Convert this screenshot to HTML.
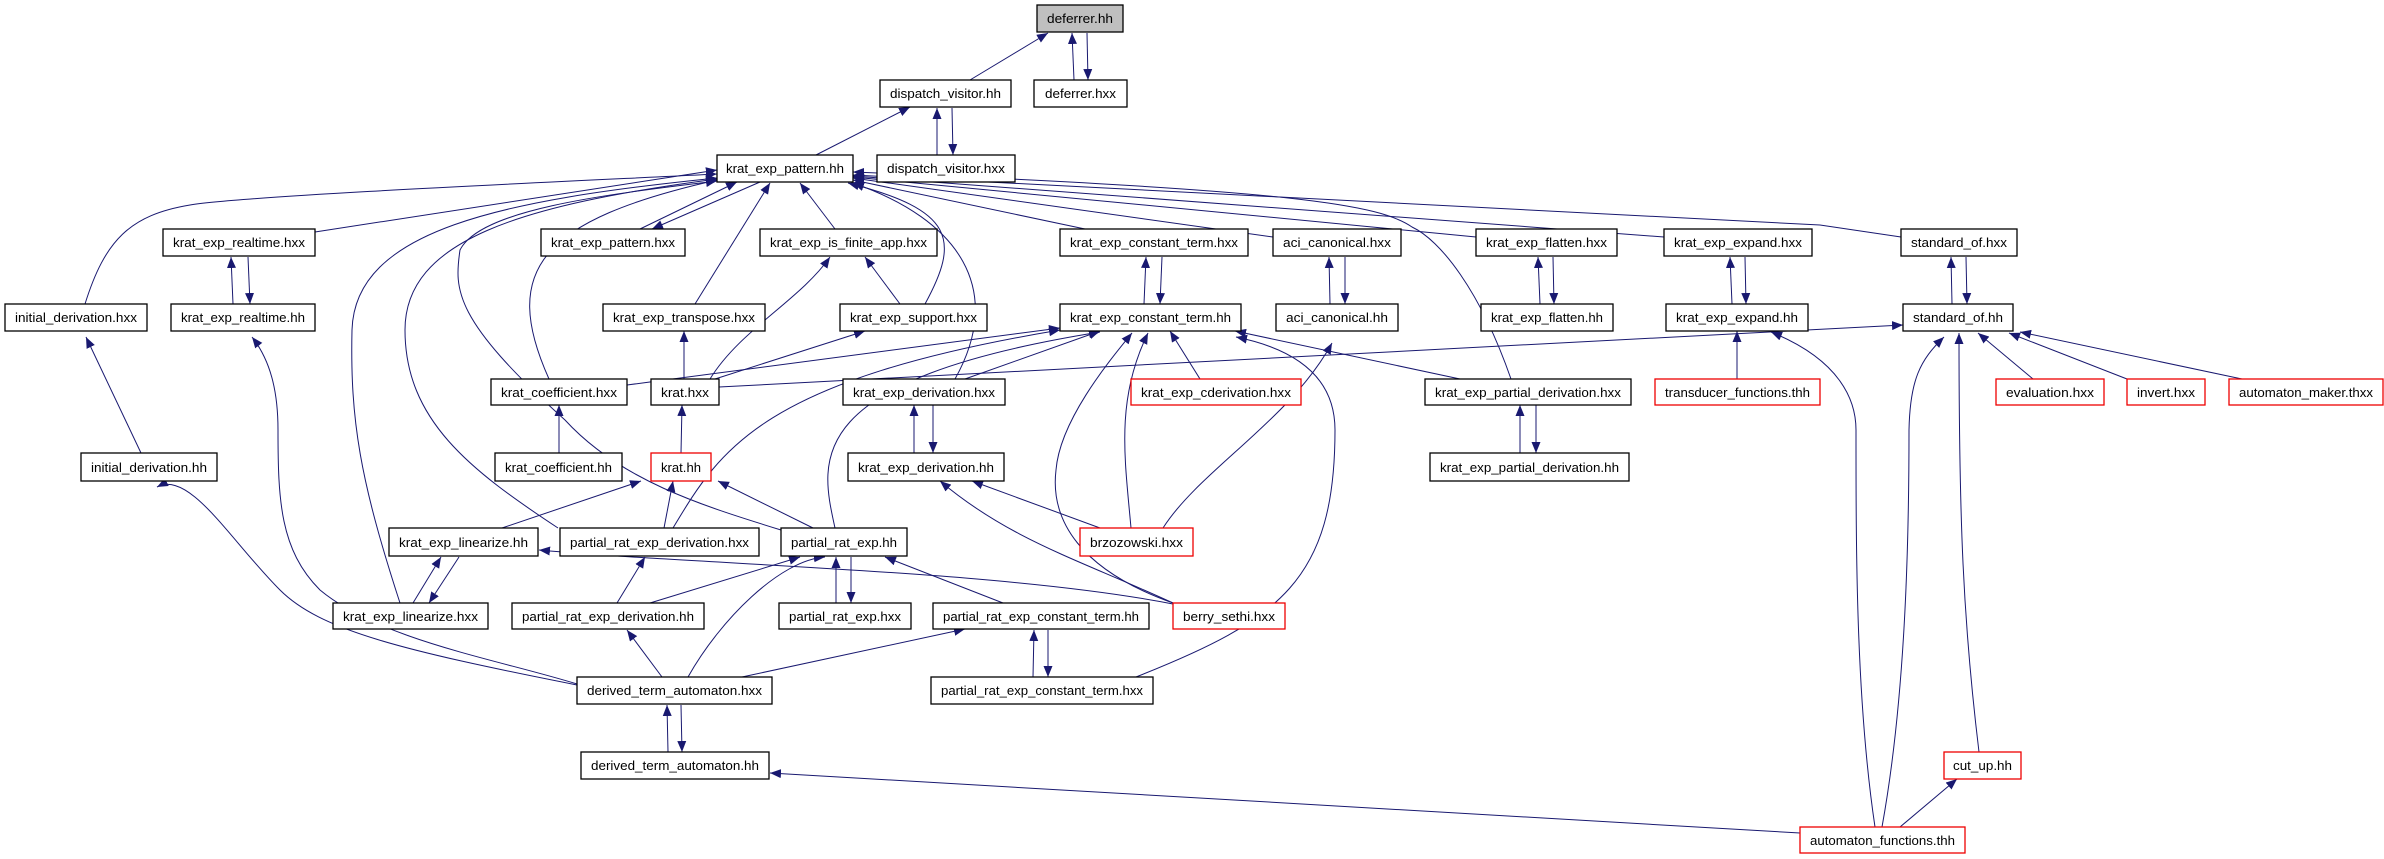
<!DOCTYPE html>
<html><head><meta charset="utf-8"><style>
html,body{margin:0;padding:0;background:#fff;}
svg{display:block;}
text{font-family:"Liberation Sans",sans-serif;font-size:13px;fill:#000;}
</style></head><body>
<svg width="2384" height="859" viewBox="0 0 2384 859" xmlns="http://www.w3.org/2000/svg">
<defs>
<marker id="a" markerUnits="userSpaceOnUse" markerWidth="12" markerHeight="10" refX="11" refY="4.5" orient="auto">
<path d="M0,0 L11,4.5 L0,9 z" fill="#191970"/>
</marker>
</defs>
<g fill="none" stroke="#191970" stroke-width="1" marker-end="url(#a)">
<path d="M970,80 L1048,33"/>
<path d="M1074,80 L1072,33"/>
<path d="M1087,33 L1088,80"/>
<path d="M816,155 L910,107"/>
<path d="M937,155 L937,108"/>
<path d="M952,108 L953,155"/>
<path d="M315,232 L717,170"/>
<path d="M640,229 L737,182"/>
<path d="M760,182 L652,229"/>
<path d="M835,229 L800,183"/>
<path d="M1085,229 L853,180"/>
<path d="M1273,237 L853,178"/>
<path d="M1476,237 L853,177"/>
<path d="M1664,237 L853,176"/>
<path d="M1901,237 L1820,225 L853,175"/>
<path d="M85,304 C105,240 130,215 190,205 S600,180 717,174"/>
<path d="M695,304 L770,183"/>
<path d="M925,304 C960,240 955,210 848,183"/>
<path d="M549,379 C500,270 540,220 717,180"/>
<path d="M955,379 C1005,290 960,220 853,183"/>
<path d="M1511,379 C1480,290 1440,240 1412,227 C1380,205 1300,190 853,172"/>
<path d="M400,603 C360,480 350,420 352,330 C355,230 500,200 717,178"/>
<path d="M558,528 C470,470 405,420 405,330 C405,240 520,205 717,179"/>
<path d="M781,530 C700,505 620,480 565,420 C454,320 454,290 460,250 C480,210 600,195 717,181"/>
<path d="M233,304 L231,257"/>
<path d="M248,257 L250,304"/>
<path d="M900,304 L865,257"/>
<path d="M710,379 C740,330 800,300 830,257"/>
<path d="M684,379 L684,331"/>
<path d="M715,379 L865,331"/>
<path d="M1144,304 L1146,257"/>
<path d="M1162,257 L1160,304"/>
<path d="M1330,304 L1329,257"/>
<path d="M1345,257 L1345,304"/>
<path d="M1540,304 L1538,257"/>
<path d="M1553,257 L1554,304"/>
<path d="M1732,304 L1730,257"/>
<path d="M1745,257 L1746,304"/>
<path d="M1952,304 L1951,257"/>
<path d="M1966,257 L1967,304"/>
<path d="M627,385 L1060,328"/>
<path d="M965,379 L1100,331"/>
<path d="M1200,379 L1170,331"/>
<path d="M1460,379 L1235,331"/>
<path d="M673,528 C720,450 760,380 1060,330"/>
<path d="M835,528 C820,460 800,380 1100,332"/>
<path d="M1173,603 C1080,570 1050,520 1056,470 C1060,420 1110,360 1132,333"/>
<path d="M1131,528 C1125,460 1115,400 1148,333"/>
<path d="M1136,677 C1280,620 1335,580 1335,430 C1335,380 1300,350 1236,337"/>
<path d="M1163,528 C1200,470 1290,420 1332,343"/>
<path d="M719,387 L1903,325"/>
<path d="M2033,379 L1978,333"/>
<path d="M2127,379 L2009,333"/>
<path d="M2242,379 L2020,332"/>
<path d="M1979,752 C1963,620 1959,520 1959,333"/>
<path d="M1882,827 C1905,700 1909,550 1909,430 C1910,380 1920,360 1944,337"/>
<path d="M1737,379 L1737,331"/>
<path d="M1875,827 C1856,700 1856,550 1856,430 C1856,400 1840,360 1771,332"/>
<path d="M559,453 L559,405"/>
<path d="M681,453 L682,405"/>
<path d="M914,453 L914,405"/>
<path d="M933,405 L933,453"/>
<path d="M1100,528 L972,481"/>
<path d="M1173,603 C1080,560 1010,540 940,481"/>
<path d="M1520,453 L1520,405"/>
<path d="M1536,405 L1536,453"/>
<path d="M502,528 L641,481"/>
<path d="M664,528 L673,481"/>
<path d="M813,528 L718,481"/>
<path d="M413,603 L441,557"/>
<path d="M459,557 L429,603"/>
<path d="M1173,604 C1000,570 700,565 539,550"/>
<path d="M617,603 L645,557"/>
<path d="M650,603 L800,557"/>
<path d="M688,677 C720,620 780,560 825,557"/>
<path d="M836,603 L836,557"/>
<path d="M851,557 L851,603"/>
<path d="M1003,603 L885,557"/>
<path d="M742,677 L965,629"/>
<path d="M1033,677 L1034,630"/>
<path d="M1048,630 L1048,677"/>
<path d="M662,677 L627,630"/>
<path d="M86,337 M141,453 L86,337"/>
<path d="M249,331 M577,684 C500,660 380,640 320,590 C280,550 278,500 278,430 C278,390 270,360 252,337"/>
<path d="M577,685 C400,650 320,630 280,590 C230,540 190,470 157,487"/>
<path d="M668,752 L667,705"/>
<path d="M681,705 L682,752"/>
<path d="M1800,833 L770,773"/>
<path d="M1900,827 L1957,779"/>
</g>
<g stroke-width="1.3" fill="#fff">
<rect x="1037" y="5" width="86" height="27" fill="#bfbfbf" stroke="#000"/>
<rect x="880" y="80" width="131" height="27" stroke="#000"/>
<rect x="1034" y="80" width="93" height="27" stroke="#000"/>
<rect x="717" y="155" width="136" height="27" stroke="#000"/>
<rect x="877" y="155" width="138" height="27" stroke="#000"/>
<rect x="163" y="229" width="152" height="27" stroke="#000"/>
<rect x="541" y="229" width="144" height="27" stroke="#000"/>
<rect x="760" y="229" width="177" height="27" stroke="#000"/>
<rect x="1060" y="229" width="188" height="27" stroke="#000"/>
<rect x="1273" y="229" width="128" height="27" stroke="#000"/>
<rect x="1476" y="229" width="141" height="27" stroke="#000"/>
<rect x="1664" y="229" width="148" height="27" stroke="#000"/>
<rect x="1901" y="229" width="116" height="27" stroke="#000"/>
<rect x="5" y="304" width="142" height="27" stroke="#000"/>
<rect x="171" y="304" width="144" height="27" stroke="#000"/>
<rect x="603" y="304" width="162" height="27" stroke="#000"/>
<rect x="840" y="304" width="147" height="27" stroke="#000"/>
<rect x="1060" y="304" width="181" height="27" stroke="#000"/>
<rect x="1276" y="304" width="122" height="27" stroke="#000"/>
<rect x="1481" y="304" width="132" height="27" stroke="#000"/>
<rect x="1666" y="304" width="142" height="27" stroke="#000"/>
<rect x="1903" y="304" width="110" height="27" stroke="#000"/>
<rect x="491" y="379" width="136" height="26" stroke="#000"/>
<rect x="651" y="379" width="68" height="26" stroke="#000"/>
<rect x="843" y="379" width="162" height="26" stroke="#000"/>
<rect x="1131" y="379" width="170" height="26" stroke="#e00"/>
<rect x="1425" y="379" width="206" height="26" stroke="#000"/>
<rect x="1655" y="379" width="165" height="26" stroke="#e00"/>
<rect x="1996" y="379" width="108" height="26" stroke="#e00"/>
<rect x="2127" y="379" width="78" height="26" stroke="#e00"/>
<rect x="2229" y="379" width="154" height="26" stroke="#e00"/>
<rect x="81" y="453" width="136" height="28" stroke="#000"/>
<rect x="495" y="453" width="127" height="28" stroke="#000"/>
<rect x="651" y="453" width="60" height="28" stroke="#e00"/>
<rect x="848" y="453" width="156" height="28" stroke="#000"/>
<rect x="1430" y="453" width="199" height="28" stroke="#000"/>
<rect x="389" y="528" width="149" height="28" stroke="#000"/>
<rect x="560" y="528" width="199" height="28" stroke="#000"/>
<rect x="781" y="528" width="126" height="28" stroke="#000"/>
<rect x="1080" y="528" width="113" height="28" stroke="#e00"/>
<rect x="333" y="603" width="155" height="26" stroke="#000"/>
<rect x="512" y="603" width="192" height="26" stroke="#000"/>
<rect x="779" y="603" width="132" height="26" stroke="#000"/>
<rect x="933" y="603" width="216" height="26" stroke="#000"/>
<rect x="1173" y="603" width="112" height="26" stroke="#e00"/>
<rect x="577" y="677" width="195" height="27" stroke="#000"/>
<rect x="931" y="677" width="222" height="27" stroke="#000"/>
<rect x="581" y="752" width="188" height="27" stroke="#000"/>
<rect x="1944" y="752" width="77" height="27" stroke="#e00"/>
<rect x="1800" y="827" width="165" height="26" stroke="#e00"/>
</g>
<g text-anchor="middle" lengthAdjust="spacingAndGlyphs">
<text x="1080" y="23" textLength="66" lengthAdjust="spacingAndGlyphs">deferrer.hh</text>
<text x="945.5" y="98" textLength="111" lengthAdjust="spacingAndGlyphs">dispatch_visitor.hh</text>
<text x="1080.5" y="98" textLength="71" lengthAdjust="spacingAndGlyphs">deferrer.hxx</text>
<text x="785" y="173" textLength="118" lengthAdjust="spacingAndGlyphs">krat_exp_pattern.hh</text>
<text x="946" y="173" textLength="118" lengthAdjust="spacingAndGlyphs">dispatch_visitor.hxx</text>
<text x="239" y="247" textLength="132" lengthAdjust="spacingAndGlyphs">krat_exp_realtime.hxx</text>
<text x="613" y="247" textLength="124" lengthAdjust="spacingAndGlyphs">krat_exp_pattern.hxx</text>
<text x="848.5" y="247" textLength="157" lengthAdjust="spacingAndGlyphs">krat_exp_is_finite_app.hxx</text>
<text x="1154" y="247" textLength="168" lengthAdjust="spacingAndGlyphs">krat_exp_constant_term.hxx</text>
<text x="1337" y="247" textLength="108" lengthAdjust="spacingAndGlyphs">aci_canonical.hxx</text>
<text x="1546.5" y="247" textLength="121" lengthAdjust="spacingAndGlyphs">krat_exp_flatten.hxx</text>
<text x="1738" y="247" textLength="128" lengthAdjust="spacingAndGlyphs">krat_exp_expand.hxx</text>
<text x="1959" y="247" textLength="96" lengthAdjust="spacingAndGlyphs">standard_of.hxx</text>
<text x="76" y="322" textLength="122" lengthAdjust="spacingAndGlyphs">initial_derivation.hxx</text>
<text x="243" y="322" textLength="124" lengthAdjust="spacingAndGlyphs">krat_exp_realtime.hh</text>
<text x="684" y="322" textLength="142" lengthAdjust="spacingAndGlyphs">krat_exp_transpose.hxx</text>
<text x="913.5" y="322" textLength="127" lengthAdjust="spacingAndGlyphs">krat_exp_support.hxx</text>
<text x="1150.5" y="322" textLength="161" lengthAdjust="spacingAndGlyphs">krat_exp_constant_term.hh</text>
<text x="1337" y="322" textLength="102" lengthAdjust="spacingAndGlyphs">aci_canonical.hh</text>
<text x="1547" y="322" textLength="112" lengthAdjust="spacingAndGlyphs">krat_exp_flatten.hh</text>
<text x="1737" y="322" textLength="122" lengthAdjust="spacingAndGlyphs">krat_exp_expand.hh</text>
<text x="1958" y="322" textLength="90" lengthAdjust="spacingAndGlyphs">standard_of.hh</text>
<text x="559" y="397" textLength="116" lengthAdjust="spacingAndGlyphs">krat_coefficient.hxx</text>
<text x="685" y="397" textLength="48" lengthAdjust="spacingAndGlyphs">krat.hxx</text>
<text x="924" y="397" textLength="142" lengthAdjust="spacingAndGlyphs">krat_exp_derivation.hxx</text>
<text x="1216" y="397" textLength="150" lengthAdjust="spacingAndGlyphs">krat_exp_cderivation.hxx</text>
<text x="1528" y="397" textLength="186" lengthAdjust="spacingAndGlyphs">krat_exp_partial_derivation.hxx</text>
<text x="1737.5" y="397" textLength="145" lengthAdjust="spacingAndGlyphs">transducer_functions.thh</text>
<text x="2050" y="397" textLength="88" lengthAdjust="spacingAndGlyphs">evaluation.hxx</text>
<text x="2166" y="397" textLength="58" lengthAdjust="spacingAndGlyphs">invert.hxx</text>
<text x="2306" y="397" textLength="134" lengthAdjust="spacingAndGlyphs">automaton_maker.thxx</text>
<text x="149" y="472" textLength="116" lengthAdjust="spacingAndGlyphs">initial_derivation.hh</text>
<text x="558.5" y="472" textLength="107" lengthAdjust="spacingAndGlyphs">krat_coefficient.hh</text>
<text x="681" y="472" textLength="40" lengthAdjust="spacingAndGlyphs">krat.hh</text>
<text x="926" y="472" textLength="136" lengthAdjust="spacingAndGlyphs">krat_exp_derivation.hh</text>
<text x="1529.5" y="472" textLength="179" lengthAdjust="spacingAndGlyphs">krat_exp_partial_derivation.hh</text>
<text x="463.5" y="547" textLength="129" lengthAdjust="spacingAndGlyphs">krat_exp_linearize.hh</text>
<text x="659.5" y="547" textLength="179" lengthAdjust="spacingAndGlyphs">partial_rat_exp_derivation.hxx</text>
<text x="844" y="547" textLength="106" lengthAdjust="spacingAndGlyphs">partial_rat_exp.hh</text>
<text x="1136.5" y="547" textLength="93" lengthAdjust="spacingAndGlyphs">brzozowski.hxx</text>
<text x="410.5" y="621" textLength="135" lengthAdjust="spacingAndGlyphs">krat_exp_linearize.hxx</text>
<text x="608" y="621" textLength="172" lengthAdjust="spacingAndGlyphs">partial_rat_exp_derivation.hh</text>
<text x="845" y="621" textLength="112" lengthAdjust="spacingAndGlyphs">partial_rat_exp.hxx</text>
<text x="1041" y="621" textLength="196" lengthAdjust="spacingAndGlyphs">partial_rat_exp_constant_term.hh</text>
<text x="1229" y="621" textLength="92" lengthAdjust="spacingAndGlyphs">berry_sethi.hxx</text>
<text x="674.5" y="695" textLength="175" lengthAdjust="spacingAndGlyphs">derived_term_automaton.hxx</text>
<text x="1042" y="695" textLength="202" lengthAdjust="spacingAndGlyphs">partial_rat_exp_constant_term.hxx</text>
<text x="675" y="770" textLength="168" lengthAdjust="spacingAndGlyphs">derived_term_automaton.hh</text>
<text x="1982.5" y="770" textLength="59" lengthAdjust="spacingAndGlyphs">cut_up.hh</text>
<text x="1882.5" y="845" textLength="145" lengthAdjust="spacingAndGlyphs">automaton_functions.thh</text>
</g>
</svg>
</body></html>
